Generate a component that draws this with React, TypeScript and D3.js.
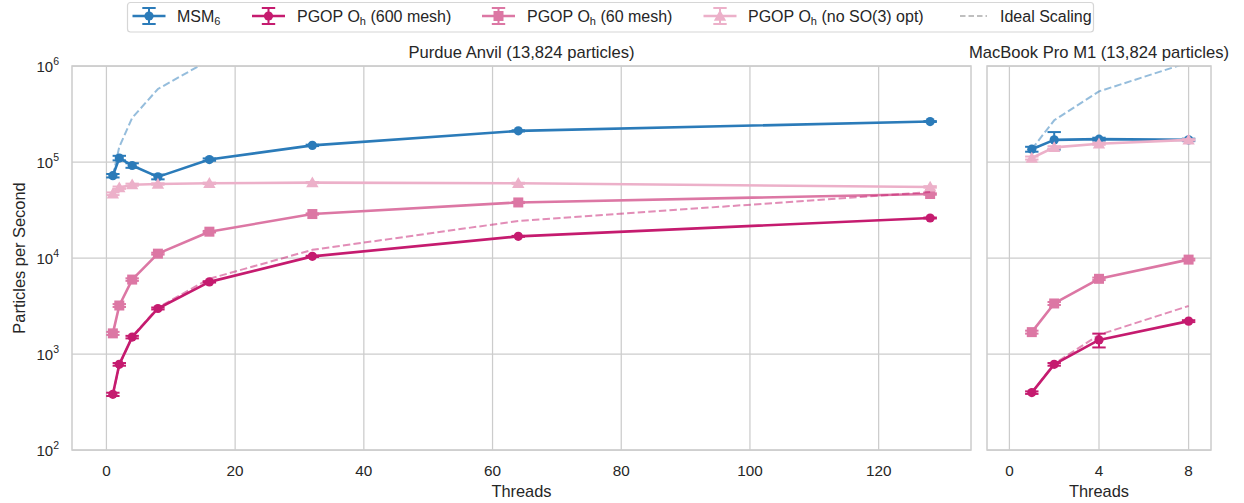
import React from "react";
import * as d3 from "d3";

// ---- data ----
const threadsAnvil = [1, 2, 4, 8, 16, 32, 64, 128];
const msmAnvil = [72000, 110000, 92000, 70000, 106000, 149000, 211000, 264000];
const msmAnvilErr = [3000, 6000, 5000, 4000, 3000, 2500, 3000, 3000];
const mesh600Anvil = [380, 780, 1500, 2980, 5640, 10400, 16800, 26100];
const mesh600AnvilErr = [15, 25, 45, 70, 90, 150, 200, 300];
const mesh60Anvil = [1640, 3200, 5960, 11100, 18800, 28700, 37900, 46400];
const mesh60AnvilErr = [60, 110, 180, 250, 350, 450, 550, 800];
const noSO3Anvil = [46700, 54000, 58000, 59000, 60000, 61000, 60000, 55000];
const noSO3AnvilErr = [1500, 1500, 1500, 1000, 1000, 800, 800, 1000];
const idealMsmAnvil = [72000, 144000, 288000, 576000, 1152000, 2304000, 4608000, 9216000];
const ideal600Anvil = [380, 760, 1520, 3040, 6080, 12160, 24320, 48640];

const threadsMac = [1, 2, 4, 8];
const msmMac = [136000, 170000, 173000, 170000];
const msmMacErr = [8000, 35000, 6000, 5000];
const noSO3Mac = [110000, 142000, 155000, 170000];
const noSO3MacErr = [4000, 4000, 4000, 3000];
const mesh60Mac = [1690, 3360, 6070, 9620];
const mesh60MacErr = [60, 120, 180, 200];
const mesh600Mac = [396, 780, 1400, 2200];
const mesh600MacErr = [12, 25, 230, 50];
const idealMsmMac = [136000, 272000, 544000, 1088000];
const ideal600Mac = [396, 792, 1584, 3168];

const xTicksAnvil = [0, 20, 40, 60, 80, 100, 120];
const xTicksMac = [0, 4, 8];
const yTicks = [2, 3, 4, 5, 6];

const C_MSM = "#2b7bb9";
const C_600 = "#c51b6f";
const C_60 = "#dc77a4";
const C_NO = "#ecb0c9";

const FONT = "'Liberation Sans', Arial, Helvetica, sans-serif";
const TXT = "#262626";
const GRID = "#cccccc";

const W = 1244, H = 503;
const Y0 = 66, Y1 = 450;
const y = d3.scaleLog().domain([100, 1e6]).range([Y1, Y0]);

type Marker = "circle" | "square" | "triangle";

function MarkerShape({ kind, cx, cy, color }: { kind: Marker; cx: number; cy: number; color: string }) {
  if (kind === "circle") return <circle cx={cx} cy={cy} r={4.6} fill={color} />;
  if (kind === "square") return <rect x={cx - 5} y={cy - 5} width={10} height={10} fill={color} />;
  const s = 6.2;
  return <path d={`M${cx},${cy - s}L${cx + s},${cy + s * 0.75}L${cx - s},${cy + s * 0.75}Z`} fill={color} />;
}

function Series({ xs, ys, errs, x, color, marker }: any) {
  const line = d3.line<number>().x((_, i) => x(xs[i])).y((v) => y(v));
  return (
    <g>
      <path d={line(ys) || ""} fill="none" stroke={color} strokeWidth={2.6} strokeLinejoin="round" />
      {ys.map((v: number, i: number) => {
        const cx = x(xs[i]);
        const top = y(v + errs[i]);
        const bot = y(Math.max(v - errs[i], 1));
        return (
          <g key={i}>
            <line x1={cx} x2={cx} y1={top} y2={bot} stroke={color} strokeWidth={2} />
            <line x1={cx - 6.7} x2={cx + 6.7} y1={top} y2={top} stroke={color} strokeWidth={2} />
            <line x1={cx - 6.7} x2={cx + 6.7} y1={bot} y2={bot} stroke={color} strokeWidth={2} />
            <MarkerShape kind={marker} cx={cx} cy={y(v)} color={color} />
          </g>
        );
      })}
    </g>
  );
}

function Ideal({ xs, ys, x, color }: any) {
  const line = d3.line<number>().x((_, i) => x(xs[i])).y((v) => y(v));
  return <path d={line(ys) || ""} fill="none" stroke={color} strokeOpacity={0.5} strokeWidth={2} strokeDasharray="7.4,3.2" />;
}

function Panel({ x, x0, x1, xTicks, id, title, showY, children }: any) {
  return (
    <g>
      <defs>
        <clipPath id={id}>
          <rect x={x0} y={Y0} width={x1 - x0} height={Y1 - Y0} />
        </clipPath>
      </defs>
      {xTicks.map((t: number) => (
        <line key={"gx" + t} x1={x(t)} x2={x(t)} y1={Y0} y2={Y1} stroke={GRID} strokeWidth={1.25} />
      ))}
      {yTicks.map((e: number) => (
        <line key={"gy" + e} x1={x0} x2={x1} y1={y(Math.pow(10, e))} y2={y(Math.pow(10, e))} stroke={GRID} strokeWidth={1.25} />
      ))}
      <g clipPath={`url(#${id})`}>{children}</g>
      <rect x={x0} y={Y0} width={x1 - x0} height={Y1 - Y0} fill="none" stroke={GRID} strokeWidth={1.5} />
      {xTicks.map((t: number) => (
        <text key={"tx" + t} x={x(t)} y={470} textAnchor="middle" dominantBaseline="central" fontSize={15.3} fill={TXT}>
          {t}
        </text>
      ))}
      {showY &&
        yTicks.map((e: number) => (
          <text key={"ty" + e} x={59} y={y(Math.pow(10, e)) + 5.5} textAnchor="end" fontSize={15} fill={TXT}>
            10
            <tspan fontSize={10.5} dy={-7}>{e}</tspan>
          </text>
        ))}
      <text x={(x0 + x1) / 2} y={52} textAnchor="middle" dominantBaseline="central" fontSize={16.6} fill={TXT}>
        {title}
      </text>
      <text x={(x0 + x1) / 2} y={491} textAnchor="middle" dominantBaseline="central" fontSize={16.4} fill={TXT}>
        Threads
      </text>
    </g>
  );
}

function LegendHandle({ cx, color, marker }: any) {
  const cy = 16;
  return (
    <g>
      <line x1={cx - 16.5} x2={cx + 16.5} y1={cy} y2={cy} stroke={color} strokeWidth={2.6} />
      <line x1={cx} x2={cx} y1={cy - 8} y2={cy + 8} stroke={color} strokeWidth={2} />
      <line x1={cx - 6.7} x2={cx + 6.7} y1={cy - 8} y2={cy - 8} stroke={color} strokeWidth={2} />
      <line x1={cx - 6.7} x2={cx + 6.7} y1={cy + 8} y2={cy + 8} stroke={color} strokeWidth={2} />
      <MarkerShape kind={marker} cx={cx} cy={cy} color={color} />
    </g>
  );
}

function Pgop({ rest }: { rest: string }) {
  return (
    <>
      PGOP O<tspan fontSize={11} dy={3}>h</tspan>
      <tspan dy={-3}>{rest}</tspan>
    </>
  );
}

export default function App() {
  const xL = d3.scaleLinear().domain([-5.35, 134.35]).range([72, 971]);
  const xR = d3.scaleLinear().domain([-1, 9]).range([987, 1211]);
  const ty = 21.5;
  return (
    <svg width={W} height={H} style={{ position: "absolute", left: 0, top: 0, background: "#fff" }} fontFamily={FONT}>
      <rect x={0} y={0} width={W} height={H} fill="#fff" />
      <Panel x={xL} x0={72} x1={971} xTicks={xTicksAnvil} id="clipL" title="Purdue Anvil (13,824 particles)" showY>
        <Series xs={threadsAnvil} ys={msmAnvil} errs={msmAnvilErr} x={xL} color={C_MSM} marker="circle" />
        <Series xs={threadsAnvil} ys={mesh600Anvil} errs={mesh600AnvilErr} x={xL} color={C_600} marker="circle" />
        <Series xs={threadsAnvil} ys={mesh60Anvil} errs={mesh60AnvilErr} x={xL} color={C_60} marker="square" />
        <Series xs={threadsAnvil} ys={noSO3Anvil} errs={noSO3AnvilErr} x={xL} color={C_NO} marker="triangle" />
        <Ideal xs={threadsAnvil} ys={idealMsmAnvil} x={xL} color={C_MSM} />
        <Ideal xs={threadsAnvil} ys={ideal600Anvil} x={xL} color={C_600} />
      </Panel>
      <Panel x={xR} x0={987} x1={1211} xTicks={xTicksMac} id="clipR" title="MacBook Pro M1 (13,824 particles)" showY={false}>
        <Series xs={threadsMac} ys={msmMac} errs={msmMacErr} x={xR} color={C_MSM} marker="circle" />
        <Series xs={threadsMac} ys={mesh600Mac} errs={mesh600MacErr} x={xR} color={C_600} marker="circle" />
        <Series xs={threadsMac} ys={mesh60Mac} errs={mesh60MacErr} x={xR} color={C_60} marker="square" />
        <Series xs={threadsMac} ys={noSO3Mac} errs={noSO3MacErr} x={xR} color={C_NO} marker="triangle" />
        <Ideal xs={threadsMac} ys={idealMsmMac} x={xR} color={C_MSM} />
        <Ideal xs={threadsMac} ys={ideal600Mac} x={xR} color={C_600} />
      </Panel>
      <text transform={`translate(19,258) rotate(-90)`} textAnchor="middle" dominantBaseline="central" fontSize={16.4} fill={TXT}>
        Particles per Second
      </text>
      {/* legend */}
      <rect x={127.5} y={2.5} width={966} height={29.5} rx={3} fill="#fff" stroke="#d6d6d6" strokeWidth={1.2} />
      <LegendHandle cx={149} color={C_MSM} marker="circle" />
      <text x={177} y={ty} fontSize={16} fill={TXT}>
        MSM<tspan fontSize={11} dy={3}>6</tspan>
      </text>
      <LegendHandle cx={268.5} color={C_600} marker="circle" />
      <text x={297} y={ty} fontSize={16} fill={TXT}>
        <Pgop rest=" (600 mesh)" />
      </text>
      <LegendHandle cx={498.5} color={C_60} marker="square" />
      <text x={527} y={ty} fontSize={16} fill={TXT}>
        <Pgop rest=" (60 mesh)" />
      </text>
      <LegendHandle cx={720} color={C_NO} marker="triangle" />
      <text x={748} y={ty} fontSize={16} fill={TXT}>
        <Pgop rest=" (no SO(3) opt)" />
      </text>
      <line x1={960} x2={987} y1={16} y2={16} stroke="#aaaaaa" strokeWidth={1.6} strokeDasharray="5.5,3" />
      <text x={1000} y={ty} fontSize={16} fill={TXT}>
        Ideal Scaling
      </text>
    </svg>
  );
}
